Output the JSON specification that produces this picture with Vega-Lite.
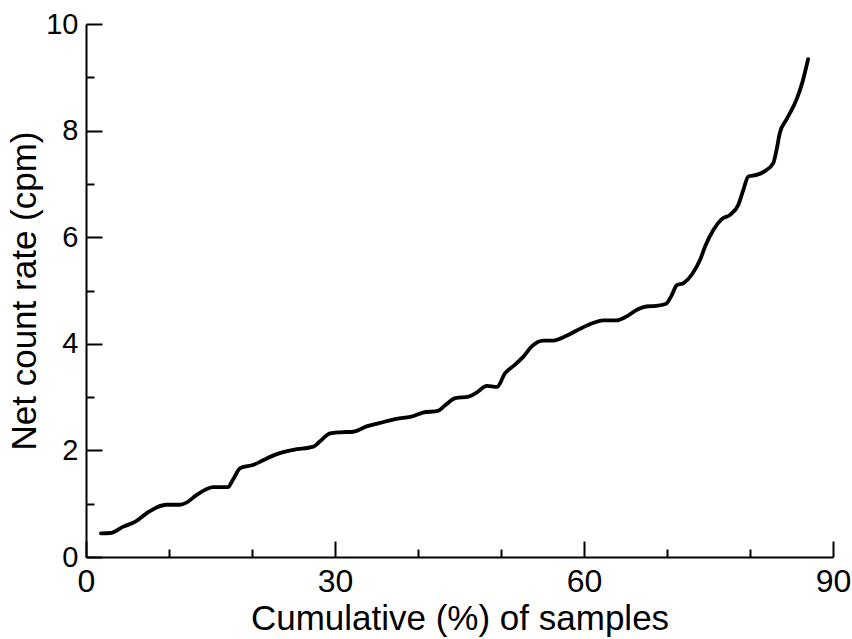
{
  "$schema": "https://vega.github.io/schema/vega-lite/v6.json",
  "autosize": "none",
  "width": 747,
  "height": 533,
  "padding": {"left": 86, "top": 24, "right": 19, "bottom": 82},
  "background": "white",
  "config": {
    "view": {"stroke": null},
    "font": "Liberation Sans",
    "axis": {
      "domainColor": "black",
      "domainWidth": 2,
      "tickColor": "black",
      "tickWidth": 2,
      "grid": false,
      "labelFont": "Liberation Sans",
      "labelColor": "black",
      "titleFont": "Liberation Sans",
      "titleFontSize": 35,
      "titleFontWeight": "normal",
      "titleColor": "black"
    }
  },
  "data": {
    "values": [
      {"x": 1.8, "y": 0.445},
      {"x": 2.9, "y": 0.45},
      {"x": 4.5, "y": 0.57},
      {"x": 5.9, "y": 0.66},
      {"x": 7.3, "y": 0.82},
      {"x": 8.5, "y": 0.93},
      {"x": 9.7, "y": 0.98},
      {"x": 11.3, "y": 0.98},
      {"x": 12.1, "y": 1.02},
      {"x": 13.3, "y": 1.16},
      {"x": 14.5, "y": 1.27},
      {"x": 15.3, "y": 1.31},
      {"x": 17.1, "y": 1.31},
      {"x": 17.7, "y": 1.45},
      {"x": 18.6, "y": 1.67},
      {"x": 20.2, "y": 1.73},
      {"x": 21.4, "y": 1.82},
      {"x": 23.0, "y": 1.93},
      {"x": 25.0, "y": 2.01},
      {"x": 27.4, "y": 2.07},
      {"x": 28.2, "y": 2.17},
      {"x": 29.4, "y": 2.32},
      {"x": 30.6, "y": 2.34},
      {"x": 32.2, "y": 2.35},
      {"x": 33.8, "y": 2.45},
      {"x": 35.3, "y": 2.51},
      {"x": 37.4, "y": 2.59},
      {"x": 39.4, "y": 2.64},
      {"x": 40.6, "y": 2.71},
      {"x": 42.4, "y": 2.74},
      {"x": 43.3, "y": 2.85},
      {"x": 44.5, "y": 2.98},
      {"x": 46.1, "y": 3.01},
      {"x": 47.1, "y": 3.09},
      {"x": 48.3, "y": 3.21},
      {"x": 49.5, "y": 3.19},
      {"x": 50.5, "y": 3.45},
      {"x": 51.7, "y": 3.61},
      {"x": 52.7, "y": 3.76},
      {"x": 53.7, "y": 3.95},
      {"x": 55.1, "y": 4.06},
      {"x": 56.3, "y": 4.06},
      {"x": 57.9, "y": 4.15},
      {"x": 59.5, "y": 4.28},
      {"x": 61.1, "y": 4.39},
      {"x": 62.3, "y": 4.44},
      {"x": 63.9, "y": 4.44},
      {"x": 65.1, "y": 4.51},
      {"x": 66.5, "y": 4.65},
      {"x": 67.5, "y": 4.70},
      {"x": 68.7, "y": 4.71},
      {"x": 69.9, "y": 4.75},
      {"x": 70.5, "y": 4.89},
      {"x": 71.2, "y": 5.10},
      {"x": 72.0, "y": 5.14},
      {"x": 73.0, "y": 5.30},
      {"x": 74.0, "y": 5.58},
      {"x": 74.6, "y": 5.83},
      {"x": 75.6, "y": 6.14},
      {"x": 76.6, "y": 6.34},
      {"x": 77.6, "y": 6.42},
      {"x": 78.6, "y": 6.61},
      {"x": 79.2, "y": 6.89},
      {"x": 79.8, "y": 7.14},
      {"x": 80.8, "y": 7.17},
      {"x": 81.8, "y": 7.24},
      {"x": 82.8, "y": 7.39},
      {"x": 83.2, "y": 7.64},
      {"x": 83.6, "y": 7.96},
      {"x": 84.4, "y": 8.21},
      {"x": 85.6, "y": 8.58},
      {"x": 86.3, "y": 8.90},
      {"x": 87.0, "y": 9.34}
    ]
  },
  "mark": {"type": "line", "color": "black", "strokeWidth": 3.8, "interpolate": "monotone", "strokeCap": "round"},
  "encoding": {
    "x": {
      "field": "x",
      "type": "quantitative",
      "scale": {"domain": [0, 90], "nice": false, "zero": false},
      "axis": {
        "title": "Cumulative (%) of samples",
        "values": [0, 10, 20, 30, 40, 50, 60, 70, 80, 90],
        "labelExpr": "datum.value % 30 === 0 ? datum.label : ''",
        "tickSize": {"condition": {"test": "datum.value % 30 === 0", "value": -16}, "value": -8},
        "labelFontSize": 32,
        "labelPadding": 25,
        "titlePadding": 4,
        "labelFlush": false
      }
    },
    "y": {
      "field": "y",
      "type": "quantitative",
      "scale": {"domain": [0, 10], "nice": false},
      "axis": {
        "title": "Net count rate (cpm)",
        "values": [0, 1, 2, 3, 4, 5, 6, 7, 8, 9, 10],
        "labelExpr": "datum.value % 2 === 0 ? datum.label : ''",
        "tickSize": {"condition": {"test": "datum.value % 2 === 0", "value": -16}, "value": -8},
        "labelFontSize": 29,
        "labelPadding": 24,
        "titlePadding": 3,
        "labelFlush": false
      }
    }
  }
}
